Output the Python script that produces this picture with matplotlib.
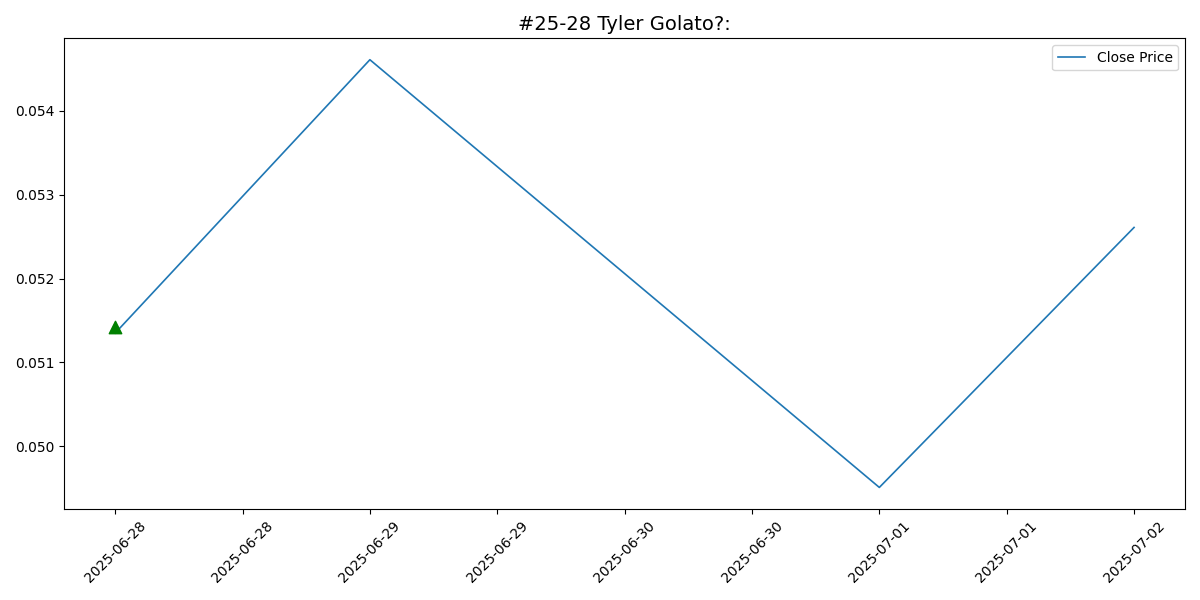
import numpy as np
import pandas as pd
import matplotlib
matplotlib.use("Agg")
import matplotlib.pyplot as plt
import matplotlib.dates as mdates

dates = pd.to_datetime(["2025-06-28", "2025-06-29", "2025-07-01", "2025-07-02"])
close = [0.05135, 0.05461, 0.04951, 0.05261]
buy_dates = pd.to_datetime(["2025-06-28"])
buy_prices = [0.05142]

fig, ax = plt.subplots(figsize=(12, 6), dpi=100)
ax.plot(dates, close, label="Close Price", linewidth=1.2)
ax.scatter(buy_dates, buy_prices, marker="^", color="green", s=80, zorder=3)
ax.set_title("#25-28 Tyler Golato?:", fontsize=14)
ax.set_xticks(pd.date_range(dates[0], dates[-1], freq="12h"))
ax.xaxis.set_major_formatter(mdates.DateFormatter("%Y-%m-%d"))
plt.xticks(rotation=45)
ax.legend(loc="upper right")
plt.tight_layout()
plt.savefig("out.png")
